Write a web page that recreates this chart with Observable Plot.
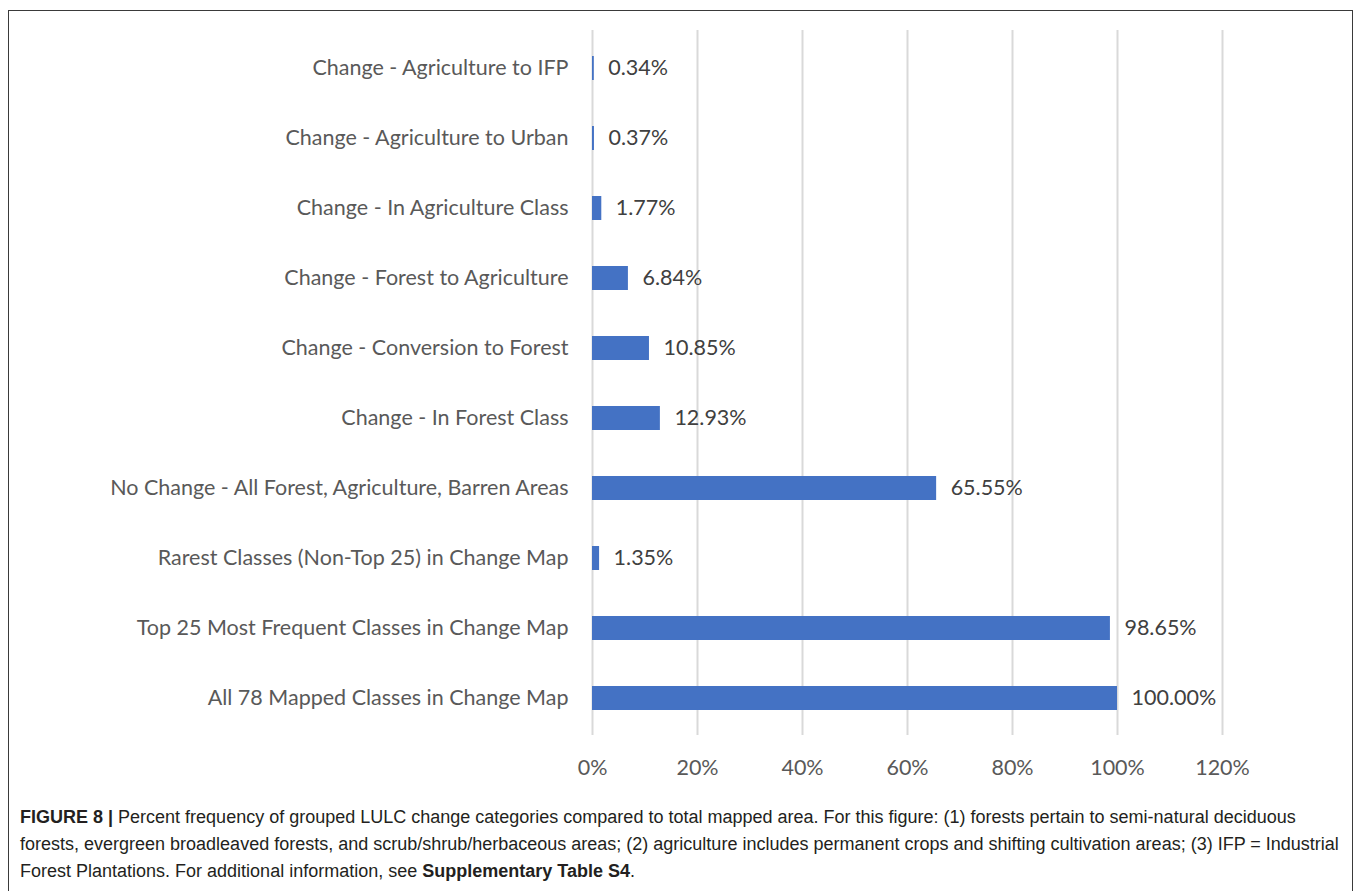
<!DOCTYPE html>
<html>
<head>
<meta charset="utf-8">
<script src="https://cdn.jsdelivr.net/npm/d3@7"></script>
<script src="https://cdn.jsdelivr.net/npm/@observablehq/plot@0.6"></script>
<style>
  html, body { margin: 0; padding: 0; background: #fff; }
  #frame { position: absolute; left: 8px; top: 10px; width: 1345px; height: 900px; border: 1px solid #3a3a3a; box-sizing: border-box; }
  #chart { position: absolute; left: 0; top: 0; }
  #caption { position: absolute; left: 20px; top: 804px; width: 1330px; font-family: "Liberation Sans", Arial, sans-serif; font-size: 18px; line-height: 27px; color: #231f20; white-space: nowrap; }
  #caption b { font-weight: bold; }
</style>
</head>
<body>
<div id="frame"></div>
<div id="chart"></div>
<div id="caption"><b>FIGURE 8 |</b> Percent frequency of grouped LULC change categories compared to total mapped area. For this figure: (1) forests pertain to semi-natural deciduous<br>forests, evergreen broadleaved forests, and scrub/shrub/herbaceous areas; (2) agriculture includes permanent crops and shifting cultivation areas; (3) IFP = Industrial<br>Forest Plantations. For additional information, see <b>Supplementary Table S4</b>.</div>
<script>
const categories = [
  "Change - Agriculture to IFP",
  "Change - Agriculture to Urban",
  "Change - In Agriculture Class",
  "Change - Forest to Agriculture",
  "Change - Conversion to Forest",
  "Change - In Forest Class",
  "No Change - All Forest, Agriculture, Barren Areas",
  "Rarest Classes (Non-Top 25) in Change Map",
  "Top 25 Most Frequent Classes in Change Map",
  "All 78 Mapped Classes in Change Map"
];
const percents = [0.34, 0.37, 1.77, 6.84, 10.85, 12.93, 65.55, 1.35, 98.65, 100.00];
const xTicks = [0, 20, 40, 60, 80, 100, 120];

const data = categories.map((c, i) => ({category: c, value: percents[i]}));
const font = "Lato, 'Open Sans', sans-serif";

const chart = Plot.plot({
  width: 1358,
  height: 790,
  marginLeft: 592,
  marginRight: 136,
  marginTop: 30,
  marginBottom: 55,
  style: {fontFamily: font, fontSize: "21.5px", color: "#595959", background: "transparent"},
  x: {domain: [0, 120], ticks: xTicks, tickFormat: d => d + "%", label: null, grid: false},
  y: {domain: categories, label: null, paddingInner: 0.66, paddingOuter: 0.33},
  marks: [
    Plot.gridX(xTicks, {stroke: "#d9d9d9", strokeOpacity: 1, strokeWidth: 2}),
    Plot.barX(data, {x: "value", y: "category", fill: "#4472C4"}),
    Plot.text(data, {x: "value", y: "category", text: d => d.value.toFixed(2) + "%", textAnchor: "start", dx: 14, fill: "#404040", fontSize: 21.5}),
    Plot.axisX({ticks: xTicks, tickFormat: d => d + "%", tickSize: 0, tickPadding: 24, label: null, fill: "#595959"}),
    Plot.axisY({tickSize: 0, tickPadding: 24, label: null, fill: "#595959"})
  ]
});
document.getElementById("chart").appendChild(chart);
</script>
</body>
</html>
